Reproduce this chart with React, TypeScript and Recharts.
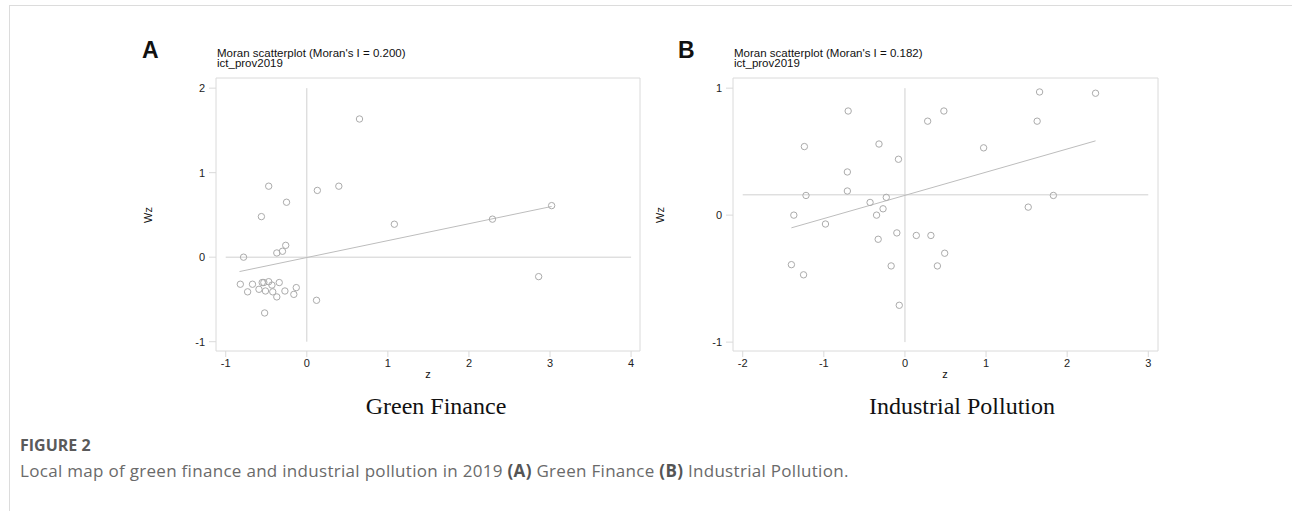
import React from "react";
import { ReferenceLine, Scatter, ScatterChart, XAxis, YAxis } from "recharts";

const gfZ = [
  0.65, -0.47, 0.13, 0.395, -0.25, -0.56, 1.08, 2.29, -0.26, -0.3, -0.37, -0.78, 3.02, 2.86, -0.82, -0.73,
  -0.67, -0.59, -0.53, -0.51, -0.47, -0.43, -0.42, -0.37, -0.34, -0.27, -0.16, -0.13, 0.12, -0.52, -0.55,
];
const gfWz = [
  1.635, 0.84, 0.79, 0.84, 0.65, 0.48, 0.39, 0.45, 0.14, 0.07, 0.05, 0.0, 0.61, -0.23, -0.32, -0.41,
  -0.32, -0.38, -0.3, -0.4, -0.29, -0.33, -0.41, -0.47, -0.3, -0.4, -0.44, -0.36, -0.51, -0.66, -0.3,
];

// Industrial pollution (B)
const ipZ = [
  -0.7, 0.48, 0.28, -1.24, -0.32, -0.08, -0.71, -0.71, -1.22, -0.23, -0.43, -0.27, -0.35, -1.37, -0.98, -0.1,
  -0.33, 0.14, 0.32, 0.49, -1.4, 0.4, -0.17, -1.25, -0.07, 1.66, 2.35, 1.63, 0.97, 1.83, 1.52,
];
const ipWz = [
  0.82, 0.82, 0.74, 0.54, 0.56, 0.44, 0.34, 0.19, 0.155, 0.14, 0.1, 0.05, 0.0, 0.0, -0.07, -0.14,
  -0.19, -0.16, -0.16, -0.3, -0.39, -0.4, -0.4, -0.47, -0.71, 0.97, 0.96, 0.74, 0.53, 0.155, 0.063,
];

// fitted lines (end points)
const gfFit = [
  { x: -0.83, y: -0.17 },
  { x: 3.02, y: 0.6 },
];
const ipFit = [
  { x: -1.4, y: -0.1 },
  { x: 2.35, y: 0.585 },
];

const gfXTicks = [-1, 0, 1, 2, 3, 4];
const gfYTicks = [-1, 0, 1, 2];
const ipXTicks = [-2, -1, 0, 1, 2, 3];
const ipYTicks = [-1, 0, 1];

const gfMeanWz = 0;
const ipMeanWz = 0.16;

const toPoints = (zs: number[], ws: number[]) => zs.map((z, i) => ({ z, wz: ws[i] }));

const AXIS = "#dadada";
const SANS = "'Liberation Sans', Arial, sans-serif";

const Ring = (props: any) => (
  <circle cx={props.cx} cy={props.cy} r={3.2} fill="none" stroke="#ababab" strokeWidth={1} />
);

type PanelProps = {
  left: number;
  width: number;
  data: { z: number; wz: number }[];
  xDomain: [number, number];
  yDomain: [number, number];
  xTicks: number[];
  yTicks: number[];
  meanWz: number;
  fit: { x: number; y: number }[];
};

const Panel = ({ left, width, data, xDomain, yDomain, xTicks, yTicks, meanWz, fit }: PanelProps) => {
  const tickStyle = { fontSize: 11, fill: "#222", fontFamily: SANS };
  const xMin = xTicks[0];
  const xMax = xTicks[xTicks.length - 1];
  const yMin = yTicks[0];
  const yMax = yTicks[yTicks.length - 1];
  return (
    <div style={{ position: "absolute", left, top: 40 }}>
      <ScatterChart width={width} height={341} margin={{ top: 18, right: 0, bottom: 0, left: 0 }}>
        <XAxis
          xAxisId={0}
          dataKey="z"
          type="number"
          domain={xDomain}
          ticks={xTicks}
          allowDataOverflow
          height={30}
          stroke={AXIS}
          tickSize={6}
          tickMargin={2}
          tick={tickStyle}
        />
        <XAxis
          xAxisId="top"
          orientation="top"
          type="number"
          domain={xDomain}
          ticks={xTicks}
          allowDataOverflow
          height={20}
          stroke={AXIS}
          tickSize={5}
          tick={false}
        />
        <YAxis
          yAxisId={0}
          dataKey="wz"
          type="number"
          domain={yDomain}
          ticks={yTicks}
          allowDataOverflow
          width={70}
          stroke={AXIS}
          tickSize={7}
          tickMargin={4}
          tick={tickStyle}
        />
        <YAxis
          yAxisId="right"
          orientation="right"
          type="number"
          domain={yDomain}
          ticks={yTicks}
          allowDataOverflow
          width={20}
          stroke={AXIS}
          tickSize={6}
          tick={false}
        />
        <ReferenceLine
          segment={[
            { x: 0, y: yMin },
            { x: 0, y: yMax },
          ]}
          stroke="#d0d0d0"
          strokeWidth={1}
        />
        <ReferenceLine
          segment={[
            { x: xMin, y: meanWz },
            { x: xMax, y: meanWz },
          ]}
          stroke="#d0d0d0"
          strokeWidth={1}
        />
        <ReferenceLine segment={fit} stroke="#bdbdbd" strokeWidth={1} />
        <Scatter data={data} shape={<Ring />} isAnimationActive={false} />
      </ScatterChart>
    </div>
  );
};

export default function App() {
  return (
    <div style={{ position: "absolute", left: 0, top: 0, width: 1292, height: 511, background: "#fff" }}>
      {/* figure frame */}
      <div style={{ position: "absolute", left: 9, top: 5, width: 1283, height: 0, borderTop: "1px solid #dcdcdc" }} />
      <div style={{ position: "absolute", left: 9, top: 5, width: 0, height: 506, borderLeft: "1px solid #dcdcdc" }} />

      <Panel
        left={146}
        width={514}
        data={toPoints(gfZ, gfWz)}
        xDomain={[-1.12, 4.11]}
        yDomain={[-1.11, 2.12]}
        xTicks={gfXTicks}
        yTicks={gfYTicks}
        meanWz={gfMeanWz}
        fit={gfFit}
      />
      <Panel
        left={663}
        width={515}
        data={toPoints(ipZ, ipWz)}
        xDomain={[-2.12, 3.12]}
        yDomain={[-1.07, 1.08]}
        xTicks={ipXTicks}
        yTicks={ipYTicks}
        meanWz={ipMeanWz}
        fit={ipFit}
      />

      <svg width={1292} height={511} style={{ position: "absolute", left: 0, top: 0, pointerEvents: "none" }}>
        <g fontFamily={SANS} fill="#111">
          <text x={142} y={58} fontSize={23} fontWeight="bold">A</text>
          <text x={678} y={58} fontSize={23} fontWeight="bold">B</text>
          <text x={217} y={57} fontSize={11.5}>Moran scatterplot (Moran's I = 0.200)</text>
          <text x={217} y={67} fontSize={11.5}>ict_prov2019</text>
          <text x={734} y={57} fontSize={11.5}>Moran scatterplot (Moran's I = 0.182)</text>
          <text x={734} y={67} fontSize={11.5}>ict_prov2019</text>
          <text x={428} y={378} fontSize={11} textAnchor="middle">z</text>
          <text x={945} y={378} fontSize={11} textAnchor="middle">z</text>
          <text x={152} y={215} fontSize={11} textAnchor="middle" transform="rotate(-90 152 215)">Wz</text>
          <text x={664} y={215} fontSize={11} textAnchor="middle" transform="rotate(-90 664 215)">Wz</text>
        </g>
        <g fontFamily="'Liberation Serif', 'Times New Roman', serif" fill="#111" fontSize={24} textAnchor="middle">
          <text x={436} y={414}>Green Finance</text>
          <text x={962} y={414}>Industrial Pollution</text>
        </g>
      </svg>

      <div
        style={{
          position: "absolute",
          left: 20,
          top: 433,
          fontFamily: "'Open Sans', 'Noto Sans', sans-serif",
          color: "#6a6a6a",
          lineHeight: "25px",
          whiteSpace: "nowrap",
        }}
      >
        <div style={{ fontSize: 16, fontWeight: 700, color: "#5a5a5a" }}>FIGURE 2</div>
        <div style={{ fontSize: 17, letterSpacing: 0.3 }}>
          Local map of green finance and industrial pollution in 2019 <b style={{ color: "#555" }}>(A)</b> Green
          Finance <b style={{ color: "#555" }}>(B)</b> Industrial Pollution.
        </div>
      </div>
    </div>
  );
}
